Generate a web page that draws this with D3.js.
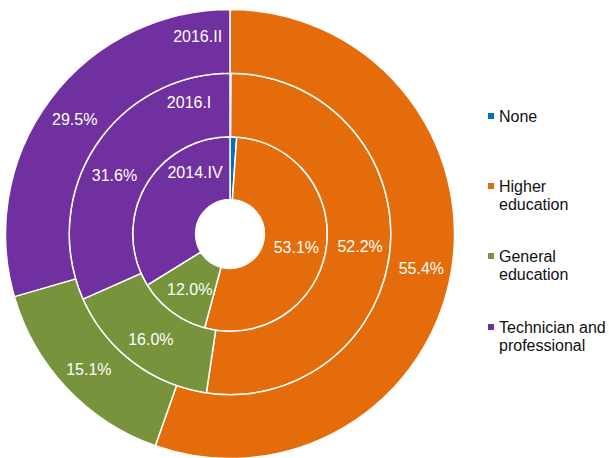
<!DOCTYPE html>
<html>
<head>
<meta charset="utf-8">
<script src="https://cdn.jsdelivr.net/npm/d3@7"></script>
<style>
  html, body { margin: 0; padding: 0; background: #fff; }
  svg { display: block; font-family: "Liberation Sans", Arial, sans-serif; }
</style>
</head>
<body>
<svg id="chart" width="609" height="458"></svg>
<script>
// ---- data ----
const categories = ["None", "Higher education", "General education", "Technician and professional"];
const legendLines = [["None"], ["Higher", "education"], ["General", "education"], ["Technician and", "professional"]];
const periods = ["2014.IV", "2016.I", "2016.II"];
const values2014IV = [1.1, 53.1, 12.0, 33.8];
const values2016I  = [0.1, 52.2, 16.0, 31.6];
const values2016II = [0.0, 55.4, 15.1, 29.5];
const colors = ["#0070C0", "#E46C0A", "#77933C", "#7030A0"];

// which labels are shown per ring (index of category), inner -> outer
const showValue = [[1, 2], [1, 2, 3], [1, 2, 3]];

// ---- layout ----
const svg = d3.select("#chart");
const cx = 230, cy = 234;
const radii = [34.4, 97.3, 160.8, 224.5];
const series = [values2014IV, values2016I, values2016II];

const pie = d3.pie().sort(null).value(d => d);
const g = svg.append("g").attr("transform", `translate(${cx},${cy})`);

series.forEach((vals, ri) => {
  const arc = d3.arc().innerRadius(radii[ri]).outerRadius(radii[ri + 1]);
  const arcs = pie(vals);
  g.append("g").selectAll("path").data(arcs).enter().append("path")
    .attr("d", arc)
    .attr("fill", (d, i) => colors[i])
    .attr("stroke", "#fff")
    .attr("stroke-width", 1.5)
    .attr("stroke-linejoin", "round");
});

// label helpers
const deg = Math.PI / 180;
function polar(angleDeg, r) {
  return [r * Math.sin(angleDeg * deg), -r * Math.cos(angleDeg * deg)];
}
const labelDy = 2;
const labelG = g.append("g")
  .attr("fill", "#fff")
  .attr("font-size", 16)
  .attr("text-anchor", "middle")
  .attr("dominant-baseline", "central");

// special angle shifts (degrees) for a few value labels: key ring-cat
const angleShift = { "1-3": -5.3 };

series.forEach((vals, ri) => {
  const arcs = pie(vals);
  const rMid = (radii[ri] + radii[ri + 1]) / 2;
  showValue[ri].forEach(ci => {
    const a = arcs[ci];
    const mid = (a.startAngle + a.endAngle) / 2 / deg + (angleShift[ri + "-" + ci] || 0);
    const [x, y] = polar(mid, rMid + 1.5);
    labelG.append("text")
      .attr("x", x).attr("y", y + labelDy)
      .text(d3.format(".1f")(vals[ci]) + "%");
  });
});

// series name labels, placed in the purple slice near the top
const namePlacement = [[331, 72.1], [342.9, 139.2], [350.8, 202.6]];
periods.forEach((p, ri) => {
  const [x, y] = polar(namePlacement[ri][0], namePlacement[ri][1]);
  labelG.append("text").attr("x", x).attr("y", y + labelDy).text(p);
});

// ---- legend ----
const legendY = [116, 186, 256, 327];
const lg = svg.append("g").attr("font-size", 16).attr("fill", "#111");
categories.forEach((c, i) => {
  const row = lg.append("g").attr("transform", `translate(488,${legendY[i]})`);
  row.append("rect").attr("x", 0).attr("y", -3).attr("width", 6).attr("height", 6).attr("fill", colors[i]);
  const t = row.append("text").attr("x", 11).attr("y", 5.5);
  legendLines[i].forEach((ln, k) => {
    t.append("tspan").attr("x", 11).attr("dy", k === 0 ? 0 : 18.5).text(ln);
  });
});
</script>
</body>
</html>
